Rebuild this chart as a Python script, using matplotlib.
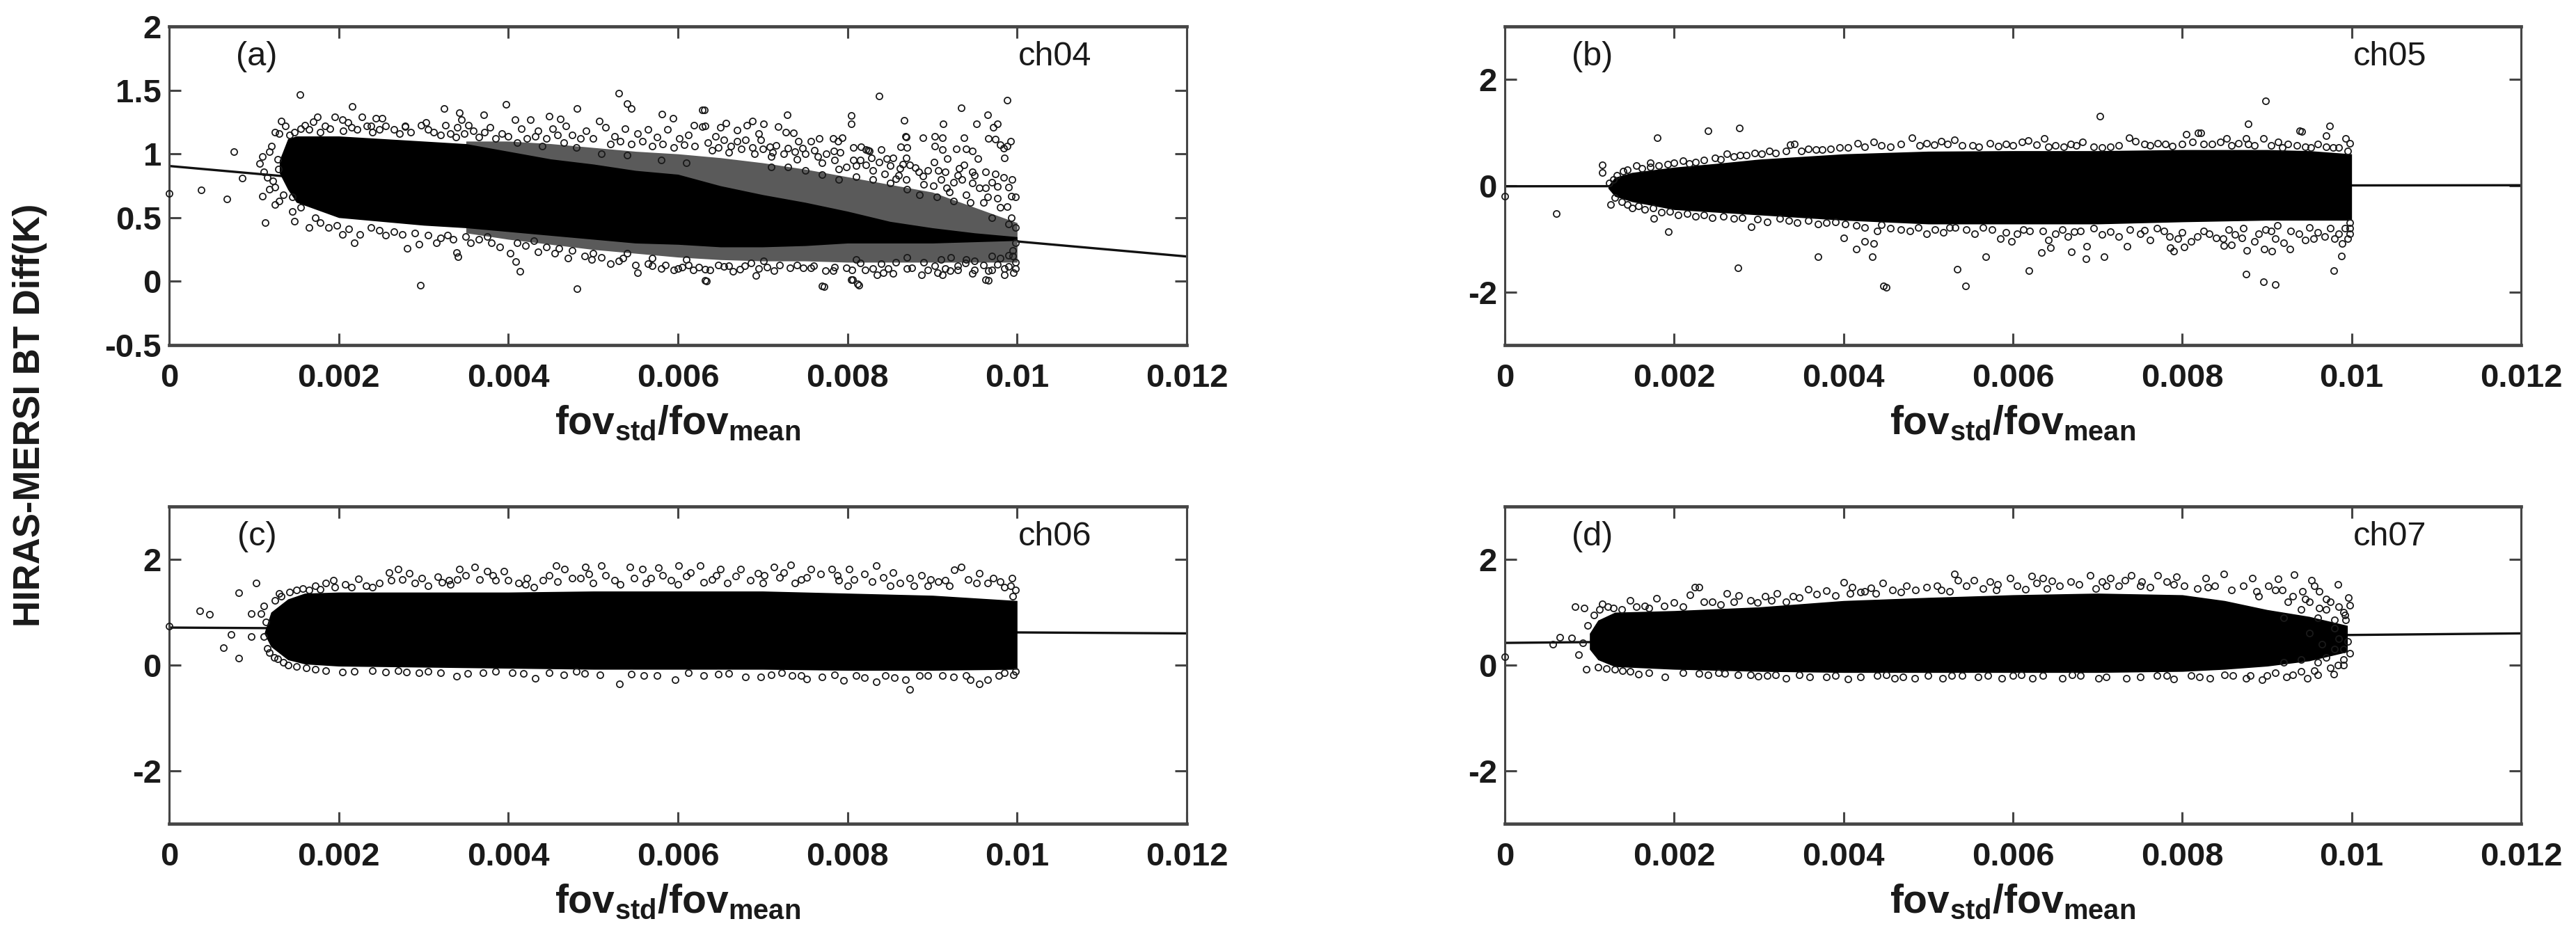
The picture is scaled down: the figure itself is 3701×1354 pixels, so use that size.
import numpy as np
import matplotlib as mpl
mpl.use('Agg')
import matplotlib.pyplot as plt

# ================= style =================
mpl.rcParams['font.family'] = ['Liberation Sans', 'DejaVu Sans']
mpl.rcParams['mathtext.fontset'] = 'custom'
mpl.rcParams['mathtext.bf'] = 'Liberation Sans:bold'
mpl.rcParams['mathtext.rm'] = 'Liberation Sans'
mpl.rcParams['axes.unicode_minus'] = False

W, H = 3701, 1354
AXIS_GREY = '#454545'

# ================= data =================
x_ticks = [0, 0.002, 0.004, 0.006, 0.008, 0.01, 0.012]
x_tick_labels = ['0', '0.002', '0.004', '0.006', '0.008', '0.01', '0.012']
fit_x = [0, 0.012]
fit_a = [0.905, 0.195]
fit_b = [-0.01, 0.01]
fit_c = [0.71, 0.60]
fit_d = [0.42, 0.60]

# The middle of each cloud is solid black, single circles cannot be read there.
# It is drawn as a band between the edges;
# the circles near the edges are listed one by one, by eye where they crowd.
a_core_x = [0.0013, 0.0014, 0.0015, 0.002, 0.003, 0.0035, 0.004, 0.0045, 0.005, 0.0055, 0.006, 0.0065, 0.007, 0.0075, 0.008, 0.0085, 0.009, 0.0095, 0.01]
a_core_top = [0.95, 1.12, 1.14, 1.14, 1.10, 1.08, 1.02, 0.96, 0.92, 0.87, 0.84, 0.75, 0.68, 0.62, 0.55, 0.47, 0.42, 0.38, 0.35]
a_core_bot = [0.85, 0.72, 0.62, 0.50, 0.44, 0.42, 0.39, 0.36, 0.33, 0.30, 0.29, 0.27, 0.27, 0.28, 0.30, 0.30, 0.30, 0.31, 0.32]
# right half of (a) is only partly covered, so a grey band sits under its circles
a_halo_x = [0.0035, 0.004, 0.0045, 0.005, 0.0055, 0.006, 0.0065, 0.007, 0.0075, 0.008, 0.0085, 0.009, 0.0095, 0.01]
a_halo_top = [1.10, 1.10, 1.08, 1.05, 1.02, 1.00, 0.97, 0.93, 0.88, 0.82, 0.76, 0.70, 0.58, 0.46]
a_halo_bot = [0.38, 0.33, 0.29, 0.25, 0.22, 0.19, 0.17, 0.16, 0.16, 0.15, 0.15, 0.15, 0.15, 0.15]

b_core_x = [0.00122, 0.0013, 0.0015, 0.002, 0.0025, 0.003, 0.0035, 0.004, 0.005, 0.006, 0.007, 0.008, 0.009, 0.0095, 0.01]
b_core_top = [0.0, 0.16, 0.25, 0.35, 0.42, 0.50, 0.55, 0.60, 0.65, 0.66, 0.66, 0.68, 0.68, 0.66, 0.60]
b_core_bot = [-0.05, -0.20, -0.30, -0.45, -0.50, -0.55, -0.60, -0.65, -0.72, -0.72, -0.72, -0.68, -0.65, -0.65, -0.65]

c_core_x = [0.00112, 0.0012, 0.0014, 0.0016, 0.002, 0.003, 0.004, 0.005, 0.006, 0.007, 0.008, 0.009, 0.01]
c_core_top = [0.60, 1.0, 1.25, 1.36, 1.38, 1.38, 1.38, 1.40, 1.40, 1.40, 1.36, 1.32, 1.22]
c_core_bot = [0.60, 0.35, 0.10, 0.02, -0.02, -0.04, -0.06, -0.08, -0.08, -0.08, -0.10, -0.10, -0.08]

d_core_x = [0.001, 0.0011, 0.0013, 0.002, 0.003, 0.004, 0.005, 0.006, 0.007, 0.008, 0.0085, 0.009, 0.0095, 0.00995]
d_core_top = [0.60, 0.85, 1.00, 1.03, 1.10, 1.22, 1.28, 1.33, 1.36, 1.33, 1.22, 1.05, 0.92, 0.75]
d_core_bot = [0.30, 0.10, -0.03, -0.08, -0.12, -0.14, -0.14, -0.14, -0.14, -0.12, -0.08, -0.02, 0.08, 0.25]

a_rings = [
    (0, .692), (.00038, .719), (.00068, .648), (.00076, 1.016), (.00086, .81), (.0011, .67), (.00125, .74), (.00116, .815),
    (.00107, .925), (.0011, .98), (.00129, .88), (.00121, 1.06), (.00125, 1.171), (.0013, 1.162), (.00132, 1.258),
    (.00113, .46), (.00125, .6), (.00135, .68), (.0013, .63), (.00118, .72), (.00112, .86), (.00122, .79), (.00128, .96), (.00118, 1.02),
    (.00154, 1.465), (.00216, 1.374), (.00324, 1.356), (.00342, 1.325), (.00371, 1.307), (.00175, 1.29), (.00195, 1.29),
    (.00204, 1.27), (.00227, 1.29), (.00244, 1.28), (.00251, 1.277), (.00278, 1.217), (.00278, 1.212), (.00303, 1.245),
    (.00297, 1.227), (.00326, 1.227), (.0034, 1.21), (.00353, 1.227), (.00359, 1.18), (.00345, 1.27), (.0016, 1.227),
    (.00184, 1.217), (.0017, 1.25), (.00211, 1.245), (.00255, 1.217), (.00233, 1.217), (.00137, 1.217), (.00148, 1.17),
    (.00165, 1.19), (.00222, 1.19), (.0024, 1.17), (.00265, 1.19), (.00312, 1.17), (.00332, 1.16),
    (.00397, 1.386), (.00408, 1.267), (.00426, 1.267), (.00448, 1.298), (.00461, 1.274), (.00481, 1.357), (.00507, 1.257),
    (.0053, 1.476), (.0054, 1.393), (.00545, 1.357), (.00581, 1.31), (.00594, 1.281), (.00619, 1.226), (.00631, 1.345), (.00632, 1.219),
    (.00378, 1.21), (.00392, 1.16), (.00415, 1.2), (.00435, 1.18), (.00452, 1.2), (.00468, 1.22), (.00475, 1.15), (.00492, 1.18),
    (.00515, 1.21), (.00525, 1.14), (.00538, 1.2), (.00552, 1.16), (.00565, 1.19), (.00575, 1.13), (.00588, 1.19), (.00602, 1.12),
    (.00612, 1.15), (.0041, 1.09), (.0044, 1.06), (.0048, 1.05), (.0051, 1.0), (.0054, .99), (.0058, .95), (.0061, .93),
    # right part, upper side
    (.00629, 1.343), (.00629, 1.216), (.00657, 1.243), (.0065, 1.207), (.0067, 1.185), (.00681, 1.225), (.00688, 1.258),
    (.00701, 1.234), (.00718, 1.216), (.00729, 1.307), (.00727, 1.17), (.00736, 1.167), (.00695, 1.161), (.00644, 1.139),
    (.00654, 1.112), (.0067, 1.098), (.0068, 1.11), (.00698, 1.112), (.00716, 1.065), (.00708, 1.058), (.00742, 1.101),
    (.00757, 1.101), (.00767, 1.119), (.00783, 1.119), (.00794, 1.129), (.00789, 1.098), (.00804, 1.301), (.00804, 1.234),
    (.00837, 1.452), (.00867, 1.265), (.00868, 1.139), (.00869, 1.134), (.00889, 1.125), (.00903, 1.139), (.00912, 1.125),
    (.00913, 1.234), (.00934, 1.362), (.00952, 1.234), (.00937, 1.125), (.00965, 1.307), (.00988, 1.422), (.00977, 1.234),
    (.00972, 1.207), (.00966, 1.119), (.00974, 1.116), (.00992, 1.098), (.00985, .97), (.00984, 1.043), (.00988, 1.06),
    (.0098, 1.07), (.00863, 1.056), (.0087, 1.052), (.00807, 1.052), (.00816, 1.056), (.00824, 1.028), (.00826, 1.024),
    (.00822, 1.034), (.0084, 1.034), (.00854, .967), (.00846, .961), (.00784, 1.021), (.00791, 1.01), (.00761, 1.028),
    (.00747, 1.047), (.0073, 1.043), (.00903, 1.061), (.00912, 1.034), (.00928, 1.038), (.0094, 1.038), (.00947, 1.021),
    (.00918, .961), (.00954, .961), (.00869, .97), (.00807, .952), (.00799, .897), (.0081, .906), (.00822, .912), (.00837, .934),
    (.00937, .916), (.00932, .888), (.00902, .934), (.00884, .861), (.00907, .87), (.00963, .861), (.00974, .843), (.00984, .815),
    (.00994, .797), (.00993, .67), (.00963, .734), (.00955, .734), (.00977, .743), (.00925, .779), (.00935, .797), (.0091, .797),
    (.00901, .752), (.00917, .734), (.00869, .797), (.00857, .806), (.00844, .843), (.00862, .888), (.00873, .916), (.00889, .825),
    (.00947, .861), (.00947, .77), (.00977, .652), (.00993, .497), (.00988, .588),
    (.0064, 1.03), (.0066, 1.01), (.0069, 1.0), (.0071, .98), (.0074, .96), (.0077, .93), (.0079, .88), (.0083, .87), (.0086, .83),
    (.0089, .76), (.0092, .7), (.0094, .68), (.0096, .62), (.0098, .58), (.00998, .66), (.00998, .42), (.0099, .45), (.0097, .5),
    # right part, lower side
    (.00632, .097), (.00632, .006), (.00654, .115), (.00673, .097), (.00679, .124), (.00686, .142), (.00692, .046), (.00713, .082),
    (.00732, .106), (.00748, .106), (.00757, .106), (.0077, -.036), (.00774, .082), (.00783, .082), (.00804, .015), (.00812, -.022),
    (.00799, .106), (.00835, .051), (.00842, .069), (.00854, .06), (.00887, .051), (.00906, .069), (.00912, .051), (.00921, .082),
    (.00947, .06), (.00963, .015), (.00966, .082), (.00985, .051), (.00996, .069), (.00939, .142), (.00903, .124), (.00876, .106),
    (.00857, .151), (.00821, .088), (.00815, .142), (.00701, .16), (.00977, .133), (.0099, .115), (.0099, .206), (.00922, .188),
    (.00998, .15), (.00995, .24), (.0097, .2), (.0095, .16), (.0093, .12), (.0089, .15), (.0087, .19), (.0084, .14), (.0081, .17),
    # left and middle, lower side
    (.00296, -.029), (.00481, -.06), (.00634, 0), (.00772, -.043), (.00813, -.029), (.00806, .012), (.00966, .005),
    (.00414, .079), (.00409, .155), (.00402, .219), (.00341, .195), (.00339, .224), (.00281, .257), (.00218, .305), (.00204, .369),
    (.00145, .55), (.00148, .47), (.00165, .42), (.00188, .42), (.00225, .37), (.00255, .36), (.00265, .39), (.00295, .29), (.00315, .3),
    (.00328, .36), (.00355, .3), (.0038, .3), (.0042, .28), (.00445, .27), (.0047, .18), (.00498, .17), (.0052, .14), (.00535, .18),
    (.00552, .07), (.00565, .14), (.0058, .1), (.00595, .09), (.00605, .11), (.00618, .09), (.00648, .13), (.00665, .08), (.00695, .1),
    (.0050, .22), (.0054, .22), (.0057, .18), (.0061, .17), (.0043, .32), (.0046, .26),
]
# crowded circles along the edges of (a)
a_rings_edge = [
    (.00142, 1.15), (.00155, 1.2), (.00178, 1.17), (.0019, 1.2), (.00205, 1.18), (.00215, 1.21), (.00238, 1.22), (.00248, 1.19), (.00272, 1.16), (.00285, 1.17),
    (.00305, 1.19), (.0032, 1.15), (.00338, 1.13), (.00348, 1.16), (.00365, 1.13), (.00372, 1.17), (.00385, 1.12), (.004, 1.14), (.00422, 1.12), (.00432, 1.14),
    (.00445, 1.12), (.00458, 1.15), (.00465, 1.09), (.00485, 1.12), (.005, 1.12), (.0052, 1.08), (.00532, 1.1), (.00545, 1.08), (.00558, 1.1), (.0057, 1.06),
    (.00582, 1.08), (.00595, 1.05), (.00607, 1.07), (.0062, 1.06), (.00635, 1.09), (.00648, 1.05), (.00662, 1.06), (.00675, 1.04), (.00688, 1.05), (.007, 1.04),
    (.00712, 1.01), (.00725, 1.0), (.00738, 1.02), (.0075, 1.0), (.00765, .98), (.00775, 1.0), (.00785, .95), (.00815, .95), (.00828, .97), (.0085, .91),
    (.00865, .92), (.0088, .89), (.00895, .87), (.00915, .86), (.0093, .83), (.0095, .83), (.0097, .78), (.0099, .74), (.00965, .66), (.00945, .62),
    (.00925, .63), (.00905, .66), (.00885, .68), (.0087, .72), (.0085, .77), (.0083, .8), (.0081, .82), (.0079, .8), (.0077, .84), (.0075, .87), (.0073, .9), (.0071, .9),
    (.00145, .66), (.00155, .58), (.00172, .5), (.00178, .46), (.00198, .44), (.00212, .41), (.00238, .42), (.00248, .4), (.00275, .37), (.0029, .38), (.00305, .36),
    (.0032, .34), (.00335, .33), (.0035, .35), (.00365, .33), (.00375, .35), (.0039, .27), (.0041, .3), (.00435, .23), (.00455, .22), (.00475, .24), (.0049, .2),
    (.0051, .19), (.0053, .16), (.0055, .13), (.0057, .12), (.00585, .13), (.0060, .1), (.00612, .13), (.00625, .11), (.00638, .09), (.0066, .12), (.00705, .11),
    (.0072, .13), (.0074, .13), (.0076, .12), (.00785, .11), (.00805, .09), (.0083, .1), (.00848, .1), (.0087, .1), (.00895, .09), (.00915, .1), (.0093, .09), (.0095, .09),
    (.0097, .09), (.00985, .1), (.00998, .1), (.00995, .2), (.00998, .3), (.0098, .18), (.0096, .13), (.0094, .17), (.0091, .17),
]

b_rings = [
    (0, -.2), (.00061, -.53), (.00115, .39), (.00115, .25), (.00125, -.36), (.00123, .05), (.0018, .9), (.00172, .43),
    (.0024, 1.04), (.00277, 1.09), (.00193, -.86), (.00176, -.62), (.00291, -.77), (.00275, -1.55), (.0037, -1.33),
    (.004, -.98), (.00415, -1.19), (.00425, -1.05), (.00436, -1.09), (.00434, -1.33), (.00447, -1.88), (.0045, -1.91),
    (.00534, -1.57), (.00544, -1.89), (.00568, -1.33), (.00619, -1.6), (.00634, -1.26), (.00644, -1.16), (.00642, -1.02),
    (.00669, -1.24), (.00686, -1.38), (.00687, -1.14), (.00708, -1.34), (.00735, -1.14), (.00703, 1.31), (.00878, 1.17),
    (.00898, 1.6), (.00939, 1.03), (.00941, 1.02), (.00974, 1.13), (.0097, .94), (.00993, .89), (.00998, .8), (.00875, -1.67),
    (.00896, -1.81), (.0091, -1.86), (.00979, -1.6), (.00988, -1.32), (.00876, -1.22), (.00786, -1.16), (.0079, -1.23),
    (.00802, -1.15), (.00849, -1.13), (.00858, -1.11), (.00897, -1.19), (.00906, -1.23), (.00927, -1.19), (.00989, -1.09), (.00998, -.9),
    (.00805, .97), (.00819, 1.0), (.00822, 1.0), (.00852, .89), (.00875, .89), (.00896, .89), (.00913, .83),
    # top edge
    (.0014, .27), (.00155, .38), (.00172, .36), (.00192, .4), (.0021, .47), (.00225, .45), (.00248, .52), (.00262, .6), (.00278, .57),
    (.00295, .62), (.00312, .66), (.00337, .77), (.00342, .78), (.00358, .7), (.00375, .68), (.00395, .72), (.00417, .8), (.00436, .83),
    (.00455, .74), (.00481, .9), (.00498, .8), (.00515, .84), (.00531, .86), (.00552, .76), (.00573, .8), (.00592, .78), (.00611, .83),
    (.00618, .85), (.00637, .89), (.0065, .76), (.00682, .83), (.00668, .78), (.00715, .74), (.00737, .91), (.00745, .84), (.00771, .8),
    (.00755, .78), (.00788, .75), (.00835, .78), (.00866, .8), (.00885, .76), (.00925, .78), (.00945, .74), (.0096, .78), (.00985, .72),
    # bottom edge
    (.00138, -.3), (.0015, -.42), (.00165, -.45), (.00185, -.5), (.00205, -.55), (.00225, -.58), (.00245, -.6), (.0027, -.62),
    (.0031, -.68), (.00325, -.62), (.00345, -.7), (.0037, -.72), (.0039, -.68), (.00415, -.75), (.0044, -.85), (.00455, -.8), (.00478, -.85),
    (.00498, -.9), (.00518, -.88), (.00532, -.78), (.00555, -.9), (.00575, -.82), (.00585, -1.0), (.00598, -1.05), (.00605, -.9),
    (.0062, -.85), (.0065, -.9), (.00665, -.95), (.0068, -.85), (.00705, -.92), (.00725, -.95), (.0075, -.9), (.00762, -1.02),
    (.00778, -.85), (.00795, -1.0), (.0081, -1.05), (.00825, -.85), (.0084, -.98), (.00862, -.92), (.00885, -1.05), (.00905, -.85),
    (.0092, -1.08), (.00938, -.9), (.00955, -1.0), (.00968, -.95), (.0098, -1.0), (.00992, -.8), (.00998, -.7), (.00872, -.8),
]
# crowded circles along the edges of (b)
b_rings_edge = [
    (.00128, .12), (.00132, .2), (.00145, .3), (.00162, .33), (.00182, .38), (.002, .43), (.00218, .42), (.00235, .48), (.00255, .5), (.0027, .55), (.00285, .58),
    (.00303, .6), (.0032, .62), (.00332, .66), (.0035, .65), (.00367, .68), (.00385, .7), (.00405, .72), (.00425, .74), (.00445, .76), (.00468, .78), (.0049, .76),
    (.00507, .77), (.00523, .78), (.0054, .76), (.0056, .74), (.00583, .75), (.006, .76), (.00628, .77), (.00642, .74), (.0066, .74), (.00675, .76), (.00695, .74),
    (.00705, .72), (.00725, .76), (.00762, .76), (.0078, .78), (.008, .78), (.00812, .82), (.00825, .78), (.00845, .82), (.00858, .76), (.00878, .78), (.00905, .76),
    (.00918, .72), (.00935, .76), (.00952, .72), (.0097, .74), (.00978, .72), (.00995, .66),
    (.0013, -.22), (.00145, -.35), (.00158, -.38), (.00175, -.42), (.00195, -.48), (.00215, -.52), (.00235, -.55), (.00258, -.58), (.0028, -.6), (.00298, -.63),
    (.00335, -.66), (.00358, -.65), (.0038, -.7), (.00402, -.72), (.00425, -.78), (.00445, -.74), (.00468, -.82), (.00488, -.78), (.00508, -.82), (.00525, -.78),
    (.00545, -.82), (.00565, -.78), (.00592, -.88), (.00612, -.82), (.00635, -.85), (.00658, -.82), (.00672, -.86), (.00695, -.8), (.00715, -.86), (.00738, -.82),
    (.00755, -.84), (.0077, -.8), (.00785, -.95), (.008, -.88), (.00818, -.95), (.00832, -.9), (.00848, -1.0), (.00855, -.82), (.0087, -.98), (.0089, -.9), (.00898, -.82),
    (.0091, -1.0), (.00928, -.85), (.00945, -1.02), (.0096, -.88), (.00975, -.8), (.00985, -.9), (.00995, -1.0), (.00998, -.8), (.00912, -.75), (.0095, -.78),
]

c_rings = [
    (0, .74), (.00036, 1.03), (.00048, .96), (.00082, 1.37), (.00103, 1.55), (.00082, .13), (.00064, .33), (.00073, .58), (.00097, .54),
    (.00097, .97), (.00116, .32), (.00124, .15), (.00112, .54), (.00108, .98), (.00112, 1.12), (.00118, .24), (.00128, .12), (.00114, .82),
    (.00125, 1.22), (.0013, 1.35), (.0015, 1.42), (.00172, 1.5), (.00185, 1.55), (.00194, 1.61), (.00208, 1.52), (.00223, 1.63),
    (.0024, 1.48), (.00259, 1.75), (.0027, 1.81), (.00283, 1.74), (.00275, 1.62), (.00298, 1.64), (.00317, 1.67), (.00332, 1.52), (.00342, 1.82),
    (.0036, 1.85), (.00375, 1.78), (.00395, 1.78), (.00385, 1.6), (.00422, 1.65), (.00441, 1.61), (.00456, 1.88), (.00466, 1.81), (.00491, 1.85),
    (.0051, 1.88), (.00485, 1.64), (.00525, 1.6), (.00543, 1.85), (.00558, 1.81), (.00577, 1.84), (.00568, 1.65), (.00601, 1.88), (.00626, 1.88),
    (.0061, 1.68), (.0065, 1.81), (.0064, 1.62), (.00674, 1.82), (.00694, 1.74), (.00685, 1.6), (.00713, 1.86), (.00733, 1.9), (.0072, 1.66),
    (.00757, 1.81), (.00745, 1.62), (.00781, 1.82), (.00802, 1.81), (.0079, 1.6), (.00834, 1.88), (.00829, 1.58), (.00854, 1.75), (.00873, 1.64),
    (.00887, 1.7), (.00907, 1.58), (.00926, 1.8), (.00934, 1.85), (.00955, 1.74), (.00994, 1.64), (.0098, 1.58), (.00965, 1.55), (.00895, 1.5),
    (.0085, 1.5), (.00998, 1.42), (.00995, 1.3), (.0033, 1.6), (.0042, 1.52), (.005, 1.55), (.006, 1.52), (.007, 1.55), (.008, 1.5), (.0092, 1.5),
    # bottom edge
    (.00531, -.36), (.00597, -.28), (.00873, -.46), (.00955, -.35), (.00965, -.28), (.00432, -.25), (.00339, -.21), (.00752, -.26),
    (.00795, -.29), (.00834, -.32), (.00996, -.18), (.0068, -.22), (.00204, -.135), (.0024, -.11), (.00172, -.08), (.0014, .0),
    (.0028, -.13), (.00305, -.12), (.0037, -.15), (.00405, -.14), (.00465, -.18), (.0049, -.16), (.0056, -.2), (.0063, -.2), (.0066, -.16),
    (.0071, -.18), (.00735, -.2), (.0077, -.22), (.0081, -.2), (.00855, -.24), (.00895, -.2), (.00925, -.22), (.0094, -.2), (.00978, -.2),
]
# crowded circles along the edges of (c)
c_rings_edge = [
    (.00132, 1.3), (.00142, 1.38), (.00158, 1.45), (.00165, 1.42), (.00178, 1.44), (.00195, 1.48), (.00215, 1.47), (.00232, 1.5), (.00248, 1.55), (.00262, 1.6), (.0029, 1.55),
    (.00305, 1.5), (.00322, 1.56), (.0034, 1.62), (.0035, 1.7), (.00366, 1.62), (.00382, 1.7), (.004, 1.6), (.00412, 1.55), (.0043, 1.48), (.00448, 1.7), (.00458, 1.58),
    (.00475, 1.65), (.00495, 1.72), (.00515, 1.7), (.00532, 1.52), (.00548, 1.65), (.00562, 1.55), (.00582, 1.7), (.00592, 1.6), (.00615, 1.75), (.0063, 1.56), (.00645, 1.7),
    (.00658, 1.55), (.00668, 1.68), (.00702, 1.7), (.00725, 1.75), (.00738, 1.55), (.00752, 1.66), (.00768, 1.72), (.00788, 1.7), (.00808, 1.62), (.0082, 1.72),
    (.00842, 1.66), (.00862, 1.55), (.00878, 1.5), (.00898, 1.62), (.00915, 1.6), (.00942, 1.62), (.00952, 1.55), (.00972, 1.65), (.00985, 1.48), (.00992, 1.5),
    (.00135, .05), (.0015, -.02), (.00162, -.05), (.00185, -.1), (.00218, -.12), (.00255, -.13), (.0027, -.1), (.00295, -.14), (.0032, -.15), (.00352, -.16), (.00385, -.12),
    (.00418, -.16), (.00448, -.15), (.0048, -.12), (.00508, -.18), (.00545, -.17), (.00575, -.2), (.00612, -.14), (.00648, -.17), (.00698, -.22), (.00722, -.14),
    (.00745, -.2), (.00785, -.18), (.0082, -.24), (.00845, -.2), (.00868, -.28), (.00885, -.2), (.00912, -.2), (.00945, -.28), (.00985, -.15), (.00998, -.12),
]

d_rings = [
    (0, .16), (.00057, .39), (.00065, .52), (.00079, .51), (.00087, .2), (.00096, -.08), (.00083, 1.1), (.00094, 1.08), (.00115, 1.16),
    (.0011, -.04), (.00092, .42), (.00098, .75), (.00105, .95), (.00122, 1.1), (.00148, 1.23), (.00165, 1.12), (.00179, 1.26), (.002, 1.19),
    (.00224, 1.47), (.00229, 1.47), (.00219, 1.33), (.00262, 1.36), (.00276, 1.31), (.00245, 1.2), (.00307, 1.3), (.00321, 1.36), (.0029, 1.22),
    (.00358, 1.44), (.0038, 1.41), (.0034, 1.3), (.004, 1.57), (.0041, 1.48), (.00432, 1.46), (.00446, 1.55), (.0042, 1.38), (.00474, 1.5),
    (.00498, 1.48), (.00531, 1.72), (.00535, 1.61), (.00554, 1.61), (.00573, 1.58), (.00515, 1.42), (.00597, 1.64), (.00622, 1.68), (.00635, 1.64),
    (.00646, 1.59), (.00668, 1.58), (.00691, 1.7), (.00715, 1.64), (.0074, 1.7), (.00771, 1.7), (.00793, 1.67), (.00828, 1.64), (.00849, 1.72),
    (.00883, 1.65), (.00913, 1.63), (.00932, 1.71), (.00953, 1.61), (.00956, 1.5), (.00984, 1.53), (.0097, 1.25), (.00996, 1.27), (.00998, 1.13),
    (.00993, .85), (.00998, .23), (.00984, 0.0), (.00979, -.17), (.00956, -.11), (.00948, -.25), (.00923, -.22), (.00894, -.28), (.00875, -.25),
    (.00833, -.25), (.0079, -.26), (.00734, -.25), (.00701, -.25), (.00658, -.25), (.00623, -.25), (.00587, -.25), (.00559, -.22), (.00517, -.25),
    (.00484, -.25), (.0046, -.25), (.00405, -.26), (.0038, -.22), (.00348, -.19), (.00332, -.25), (.00299, -.21), (.00252, -.15), (.00229, -.16),
    (.00189, -.22), (.00158, -.17), (.00139, -.11), (.00275, -.18), (.0032, -.18), (.0044, -.2), (.0054, -.2), (.0061, -.18), (.0068, -.2),
    (.0077, -.2), (.0081, -.2), (.0086, -.2), (.0091, -.15), (.0094, -.12),
    # loose right end
    (.0089, 1.3), (.0091, 1.42), (.0093, 1.3), (.0095, 1.2), (.0097, 1.05), (.0099, 1.0), (.0096, .9), (.0098, .7), (.00985, .5), (.0095, .6),
    (.0092, .9), (.00965, .4), (.0099, .3), (.0097, .15), (.0094, .1), (.0092, .05), (.0096, .05), (.0099, .1), (.0098, .85), (.0094, 1.05),
    (.0075, 1.5), (.0079, 1.52), (.0083, 1.48), (.0071, 1.5), (.0064, 1.45), (.0058, 1.42),
]
# crowded circles along the edges of (d)
d_rings_edge = [
    (.00112, 1.05), (.00128, 1.08), (.00138, 1.05), (.00155, 1.1), (.0017, 1.08), (.00188, 1.12), (.0021, 1.1), (.00235, 1.2), (.00255, 1.15), (.0027, 1.2), (.00298, 1.18),
    (.00315, 1.22), (.00332, 1.2), (.00348, 1.28), (.00368, 1.34), (.0039, 1.32), (.00408, 1.35), (.00425, 1.4), (.00438, 1.35), (.00458, 1.42), (.00468, 1.38), (.00485, 1.42),
    (.0051, 1.5), (.00525, 1.4), (.00545, 1.5), (.00565, 1.45), (.00582, 1.52), (.00605, 1.5), (.00615, 1.44), (.00628, 1.55), (.00655, 1.5), (.00678, 1.52), (.00698, 1.45),
    (.00705, 1.58), (.00725, 1.5), (.00732, 1.6), (.00752, 1.58), (.00762, 1.48), (.00782, 1.58), (.00802, 1.5), (.00818, 1.45), (.00838, 1.5), (.00858, 1.42), (.00872, 1.5),
    (.00888, 1.4), (.00902, 1.5), (.00918, 1.42), (.00925, 1.2), (.00942, 1.4), (.00945, 1.25), (.00962, 1.4), (.00975, 1.2), (.00985, 1.1), (.00992, .95), (.00962, 1.08),
    (.0012, -.06), (.0013, -.08), (.00148, -.12), (.0017, -.14), (.0021, -.15), (.0024, -.18), (.0026, -.16), (.0029, -.18), (.0031, -.2), (.0036, -.22), (.0039, -.2), (.0042, -.22),
    (.0045, -.18), (.0047, -.22), (.005, -.2), (.00528, -.2), (.0057, -.2), (.006, -.2), (.00635, -.2), (.0067, -.18), (.0071, -.22), (.0075, -.22), (.00782, -.2), (.0082, -.22),
    (.0085, -.18), (.0088, -.2), (.009, -.2), (.0093, -.18), (.0096, -.18), (.00975, -.05), (.0099, .0), (.0098, .3), (.00995, .45),
]

panels = [
    ('(a)', 'ch04', a_rings + a_rings_edge, a_core_x, a_core_top, a_core_bot, fit_a, (-0.5, 2), [-0.5, 0, 0.5, 1, 1.5, 2], ['-0.5', '0', '0.5', '1', '1.5', '2'], (243, 38, 1705, 496)),
    ('(b)', 'ch05', b_rings + b_rings_edge, b_core_x, b_core_top, b_core_bot, fit_b, (-3, 3), [-2, 0, 2], ['-2', '0', '2'], (2162, 38, 3622, 496)),
    ('(c)', 'ch06', c_rings + c_rings_edge, c_core_x, c_core_top, c_core_bot, fit_c, (-3, 3), [-2, 0, 2], ['-2', '0', '2'], (243, 728, 1705, 1184)),
    ('(d)', 'ch07', d_rings + d_rings_edge, d_core_x, d_core_top, d_core_bot, fit_d, (-3, 3), [-2, 0, 2], ['-2', '0', '2'], (2162, 728, 3622, 1184)),
]

fig = plt.figure(figsize=(W / 100, H / 100), dpi=100)

for tag, ch, rings, core_x, core_top, core_bot, fit, ylim, yt, ytl, box in panels:
    left, top, right, bottom = box
    ax = fig.add_axes([left / W, 1 - bottom / H, (right - left) / W, (bottom - top) / H])

    ax.plot(fit_x, fit, color='#111111', lw=2.4, zorder=2)
    if tag == '(a)':
        ax.fill_between(a_halo_x, a_halo_bot, a_halo_top, color='#5a5a5a', lw=0, zorder=2)
    ax.fill_between(core_x, core_bot, core_top, color='black', lw=0, zorder=3)
    pts = np.array(rings)
    ax.plot(pts[:, 0], pts[:, 1], ls='none', marker='o', ms=6.6, mew=1.3, mfc='none', mec='#1a1a1a',
            zorder=4, clip_on=False)

    ax.set_xlim(0, 0.012)
    ax.set_ylim(*ylim)
    ax.set_xticks(x_ticks)
    ax.set_xticklabels(x_tick_labels, fontsize=34, fontweight='bold', color='#1a1a1a')
    ax.set_yticks(yt)
    ax.set_yticklabels(ytl, fontsize=34, fontweight='bold', color='#1a1a1a')
    ax.tick_params(axis='both', direction='in', top=True, right=True, length=12, width=2.2, color=AXIS_GREY)
    ax.tick_params(axis='x', pad=19)
    ax.tick_params(axis='y', pad=8)
    for side, spine in ax.spines.items():
        spine.set_color(AXIS_GREY)
        spine.set_linewidth(3.4 if side in ('top', 'bottom') else 2.2)

    ax.text((369 - 243) / 1462, 1 - 44 / 458, tag, transform=ax.transAxes, fontsize=35, ha='center', va='center', color='#1a1a1a')
    ax.text((1516 - 243) / 1462, 1 - 44 / 458, ch, transform=ax.transAxes, fontsize=35, ha='center', va='center', color='#1a1a1a')
    ax.set_xlabel(r'$\mathbf{fov_{std}/fov_{mean}}$', fontsize=41, labelpad=11, color='#1a1a1a')

fig.text(43 / W, 1 - 597 / H, 'HIRAS-MERSI BT Diff(K)', rotation=90, fontsize=38, fontweight='bold',
         ha='center', va='center', color='#1a1a1a')

fig.savefig('out.png', dpi=100)
